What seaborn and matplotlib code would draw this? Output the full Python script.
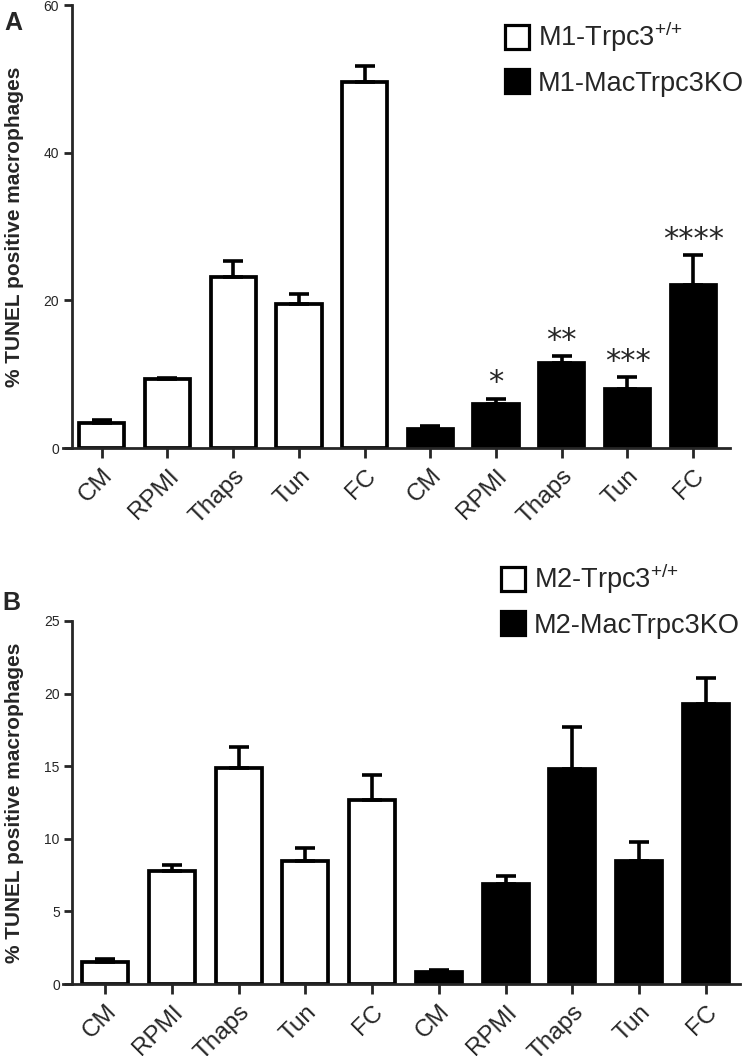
import seaborn as sns
import pandas as pd
import matplotlib.pyplot as plt
from matplotlib.lines import Line2D

conditions = ["CM", "RPMI", "Thaps", "Tun", "FC"]

# panel A (M1 macrophages)
m1_wt = [3.4, 9.3, 23.1, 19.5, 49.6]
m1_wt_err = [0.35, 0.15, 2.2, 1.4, 2.2]
m1_ko = [2.6, 6.0, 11.5, 8.0, 22.1]
m1_ko_err = [0.35, 0.7, 0.9, 1.6, 4.0]
m1_stars = ["", "*", "**", "***", "****"]
m1_names = ["M1-Trpc3$^{{+}/{+}}$", "M1-MacTrpc3KO"]

# panel B (M2 macrophages)
m2_wt = [1.5, 7.8, 14.85, 8.5, 12.7]
m2_wt_err = [0.25, 0.4, 1.45, 0.9, 1.7]
m2_ko = [0.85, 6.9, 14.8, 8.5, 19.3]
m2_ko_err = [0.12, 0.55, 2.9, 1.3, 1.8]
m2_names = ["M2-Trpc3$^{{+}/{+}}$", "M2-MacTrpc3KO"]

W, H = 742, 1056


def px_rect(left, right, top, bottom):
    return [left / W, 1 - bottom / H, (right - left) / W, (bottom - top) / H]


def panel(fig, rect, wt, wt_err, ko, ko_err, names, ymax, yticks, xlim, spine_x,
          legend_xy, stars=None):
    ax = fig.add_axes(rect)
    keys = [f"{c}_wt" for c in conditions] + [f"{c}_ko" for c in conditions]
    df = pd.DataFrame({
        "key": keys,
        "value": wt + ko,
        "genotype": ["wt"] * 5 + ["ko"] * 5,
    })
    sns.barplot(data=df, x="key", y="value", hue="genotype", order=keys,
                dodge=False, palette={"wt": "white", "ko": "black"},
                edgecolor="black", linewidth=2.7, width=0.69,
                errorbar=None, legend=False, ax=ax)
    errs = wt_err + ko_err
    ax.errorbar(range(10), df["value"], yerr=[[0] * 10, errs], fmt="none",
                ecolor="black", elinewidth=2.6, capsize=7.5, capthick=2.6, zorder=1)
    if stars:
        for i, s in enumerate(stars):
            if s:
                ax.annotate(s, (5 + i, ko[i] + ko_err[i]), xytext=(0, 1),
                            textcoords="offset points", ha="center", va="bottom",
                            fontsize=22, fontfamily="DejaVu Sans")
    ax.set_xlim(*xlim)
    ax.set_ylim(0, ymax)
    ax.set_yticks(yticks)
    ax.set_yticklabels([str(t) for t in yticks], fontsize=11.5,
                       fontfamily=["Liberation Sans Narrow", "Liberation Sans"])
    ax.set_xticks(range(10))
    ax.set_xticklabels(conditions * 2, rotation=45, ha="right", va="top",
                       rotation_mode="anchor", fontsize=17.5)
    ax.set_xlabel("")
    ax.set_ylabel("% TUNEL positive macrophages", fontsize=15, fontweight="bold")
    ax.yaxis.set_label_coords(-0.058, 0.5)
    sns.despine(ax=ax)
    ax.spines["left"].set_position(("data", spine_x))
    for sp in ["left", "bottom"]:
        ax.spines[sp].set_linewidth(2)
    ax.tick_params(axis="both", width=2, length=6, pad=3)
    ax.tick_params(axis="x", length=7, pad=5)
    handles = [
        Line2D([], [], marker="s", ls="none", markersize=17, markerfacecolor="white",
               markeredgecolor="black", markeredgewidth=2.3),
        Line2D([], [], marker="s", ls="none", markersize=17, markerfacecolor="black",
               markeredgecolor="black", markeredgewidth=2.3),
    ]
    ax.legend(handles, names, loc="upper left",
              bbox_to_anchor=(legend_xy[0] / W, 1 - legend_xy[1] / H),
              bbox_transform=fig.transFigure,
              frameon=False, fontsize=19.5, handletextpad=0.3, labelspacing=0.6,
              handlelength=0.9, borderpad=0.0, borderaxespad=0.0)
    return ax


sns.set_style("ticks")
plt.rcParams["font.family"] = ["Liberation Sans", "DejaVu Sans"]
plt.rcParams["mathtext.default"] = "regular"

fig = plt.figure(figsize=(W / 100, H / 100), dpi=100)

panel(fig, px_rect(63, 730, 5, 448), m1_wt, m1_wt_err, m1_ko, m1_ko_err, m1_names,
      60, [0, 20, 40, 60], (-0.59, 9.56), -0.46, (505, 20), stars=m1_stars)
panel(fig, px_rect(63, 740, 621, 984), m2_wt, m2_wt_err, m2_ko, m2_ko_err, m2_names,
      25, [0, 5, 10, 15, 20, 25], (-0.63, 9.51), -0.49, (501, 562))

fig.text(4 / W, 1 - 30 / H, "A", fontsize=18, fontweight="bold")
fig.text(2 / W, 1 - 610 / H, "B", fontsize=18, fontweight="bold")

fig.savefig("out.png", dpi=100)
